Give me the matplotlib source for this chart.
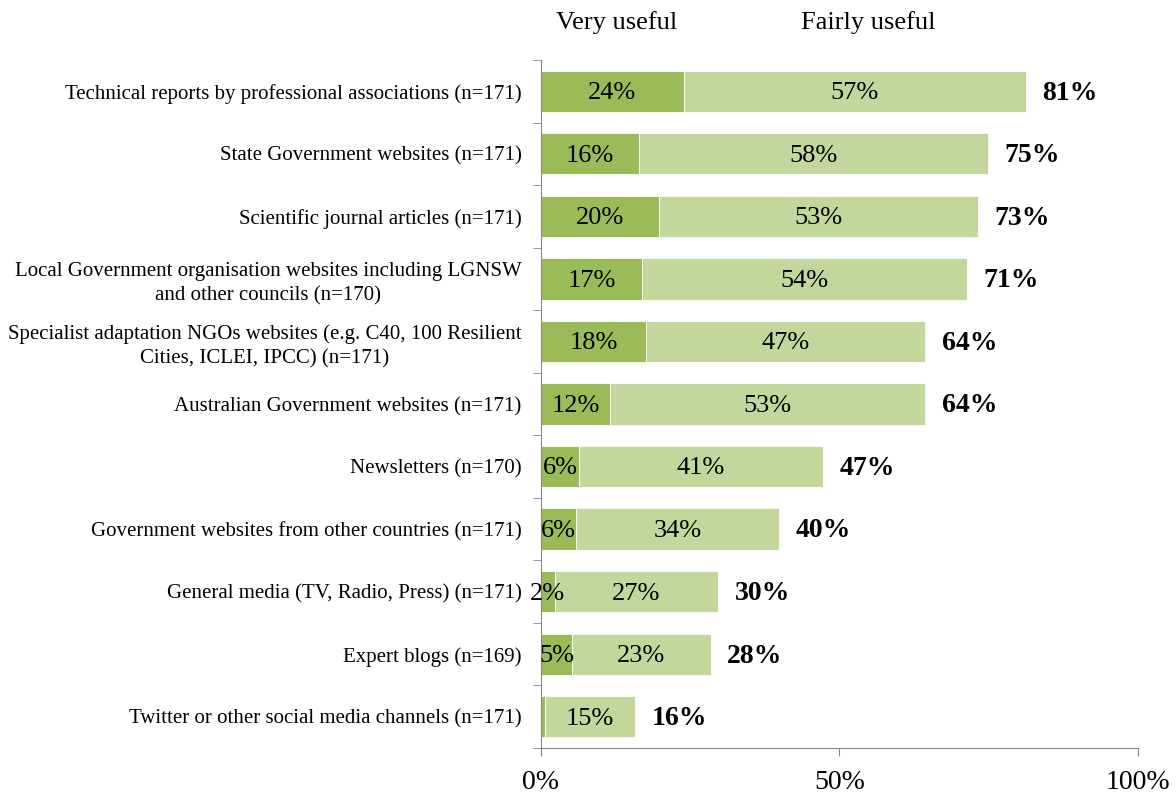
import matplotlib.pyplot as plt
import numpy as np

plt.rcParams['font.family'] = ['Liberation Serif', 'DejaVu Serif']

categories = [
    'Technical reports by professional associations (n=171)',
    'State Government websites (n=171)',
    'Scientific journal articles (n=171)',
    'Local Government organisation websites including LGNSW\nand other councils (n=170)',
    'Specialist adaptation NGOs websites (e.g. C40, 100 Resilient\nCities, ICLEI, IPCC) (n=171)',
    'Australian Government websites (n=171)',
    'Newsletters (n=170)',
    'Government websites from other countries (n=171)',
    'General media (TV, Radio, Press) (n=171)',
    'Expert blogs (n=169)',
    'Twitter or other social media channels (n=171)',
]
very_useful = [23.9, 16.4, 19.8, 16.9, 17.6, 11.6, 6.4, 5.9, 2.3, 5.2, 0.6]
fairly_useful = [57.3, 58.4, 53.4, 54.4, 46.8, 52.8, 40.8, 34.0, 27.4, 23.2, 15.1]

dark_green = '#9bbb59'
light_green = '#c3d69b'
axis_grey = '#868686'


def plt_data():
    fig = plt.figure(figsize=(11.76, 7.94), dpi=100)
    ax = fig.add_axes([0.4600, 0.0579, 0.5077, 0.8665])

    y = np.arange(len(categories))
    very = np.array(very_useful)
    fairly = np.array(fairly_useful)
    total = very + fairly

    ax.barh(y, very, height=0.66, color=dark_green, edgecolor='white', linewidth=0.6)
    ax.barh(y, fairly, left=very, height=0.66, color=light_green,
            edgecolor='white', linewidth=0.6)

    for i in range(len(y)):
        if very[i] >= 1:
            ax.text(very[i] / 2, y[i] + 0.03, '%d%%' % round(very[i]),
                    ha='center', va='center', fontsize=19)
        ax.text(very[i] + fairly[i] / 2, y[i] + 0.03, '%d%%' % round(fairly[i]),
                ha='center', va='center', fontsize=19)
        ax.annotate('%d%%' % round(total[i]), (total[i], y[i] + 0.03),
                    xytext=(12, 0), textcoords='offset points',
                    ha='left', va='center', fontsize=20, fontweight='bold')

    ax.set_xlim(0, 100)
    ax.set_ylim(len(categories) - 0.5, -0.5)

    ax.set_xticks([0, 50, 100])
    ax.set_xticklabels(['0%', '50%', '100%'], fontsize=20)
    ax.tick_params(axis='x', direction='out', length=6, color=axis_grey, pad=10)

    ax.set_yticks(y)
    ax.set_yticklabels(categories, fontsize=15)
    for lbl in ax.get_yticklabels():
        lbl.set_multialignment('center')
        lbl.set_linespacing(1.35)
    ax.tick_params(axis='y', which='major', length=0, pad=14)
    ax.set_yticks(np.arange(-0.5, len(categories), 1), minor=True)
    ax.tick_params(axis='y', which='minor', direction='out', length=6,
                   color=axis_grey)

    for side in ['top', 'right']:
        ax.spines[side].set_visible(False)
    for side in ['left', 'bottom']:
        ax.spines[side].set_color(axis_grey)

    fig.text(617 / 1176, 1 - 23 / 794, 'Very useful', ha='center', va='center', fontsize=19)
    fig.text(868 / 1176, 1 - 23 / 794, 'Fairly useful', ha='center', va='center', fontsize=19)

    fig.savefig('out.png', dpi=100)


if __name__ == '__main__':
    plt_data()
